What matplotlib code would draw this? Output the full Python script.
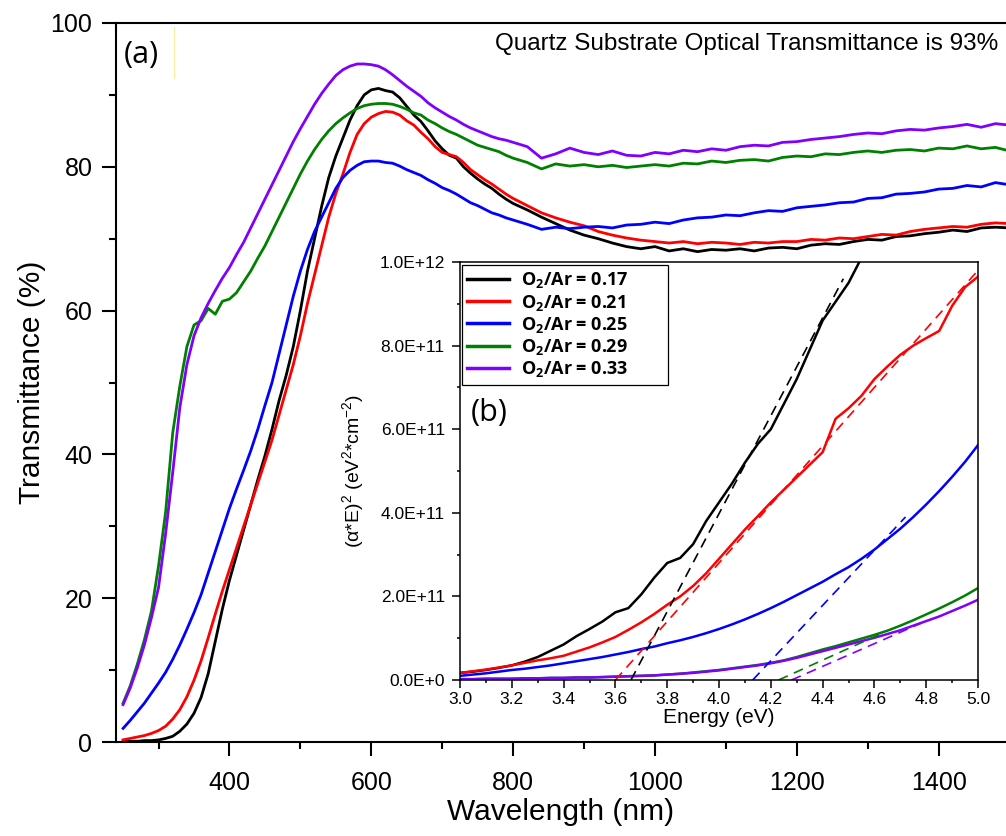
import numpy as np
import matplotlib
matplotlib.use("Agg")
import matplotlib.pyplot as plt
from matplotlib.ticker import MultipleLocator, FuncFormatter

plt.rcParams['font.family'] = ['Liberation Sans', 'DejaVu Sans']
plt.rcParams['mathtext.fontset'] = 'custom'
plt.rcParams['mathtext.rm'] = 'Liberation Sans'
plt.rcParams['mathtext.it'] = 'Liberation Sans:italic'
plt.rcParams['mathtext.bf'] = 'Open Sans:bold'

# etiquetas de las muestras (razon O2/Ar)
etiquetas = [r'O$_\mathbf{2}$/Ar = 0.17', r'O$_\mathbf{2}$/Ar = 0.21', r'O$_\mathbf{2}$/Ar = 0.25',
             r'O$_\mathbf{2}$/Ar = 0.29', r'O$_\mathbf{2}$/Ar = 0.33']
colores = ['#000000', '#FF0000', '#0000FF', '#008000', '#8000FF']

# (a) transmitancia vs longitud de onda
longitud = list(range(250, 801, 10)) + list(range(820, 1501, 20))

t_017 = [0.1, 0.1, 0.1, 0.2, 0.2, 0.3, 0.5, 0.8, 1.5, 2.5, 4.0, 6.2, 9.5, 14.0, 18.5, 22.5, 26.0, 29.5,
         33.0, 36.5, 39.8, 43.5, 47.5, 51.0, 55.0, 60.0, 65.5, 70.0, 74.5, 78.5, 81.5, 84.0, 86.5, 88.5,
         90.0, 90.7, 90.9, 90.6, 90.4, 89.6, 88.4, 87.2, 86.3, 85.0, 83.6, 82.5, 81.6, 81.2, 80.0, 79.1,
         78.3, 77.6, 77.0, 76.2, 75.5, 74.9,
         74.0, 73.0, 72.1, 71.2, 70.5, 70.0, 69.4, 68.9, 68.6, 68.9, 68.3, 68.6, 68.2, 68.5, 68.4, 68.6,
         68.3, 68.7, 68.8, 68.6, 69.1, 69.3, 69.2, 69.6, 69.9, 69.8, 70.3, 70.4, 70.7, 70.9, 71.2, 71.0,
         71.5, 71.6, 71.5]
t_021 = [0.3, 0.5, 0.7, 0.9, 1.2, 1.6, 2.2, 3.2, 4.5, 6.3, 8.6, 11.3, 14.5, 17.8, 21.0, 24.0, 27.0, 30.0,
         33.0, 36.0, 39.0, 42.0, 45.5, 49.0, 52.5, 56.5, 61.0, 65.0, 69.0, 73.0, 76.3, 79.0, 82.0, 84.5,
         86.0, 86.9, 87.4, 87.7, 87.6, 87.2, 86.4, 85.8, 84.8, 83.9, 82.8, 82.0, 81.7, 81.4, 80.6, 79.6,
         78.9, 78.2, 77.6, 76.9, 76.2, 75.6,
         74.6, 73.6, 72.9, 72.3, 71.8, 71.0, 70.5, 70.1, 69.8, 69.6, 69.4, 69.6, 69.3, 69.5, 69.4, 69.2,
         69.5, 69.4, 69.6, 69.6, 69.9, 69.8, 70.1, 70.0, 70.3, 70.6, 70.5, 71.0, 71.3, 71.5, 71.7, 71.6,
         72.0, 72.2, 72.1]
t_025 = [1.9, 3.0, 4.2, 5.4, 6.8, 8.2, 9.7, 11.5, 13.5, 15.7, 18.0, 20.5, 23.5, 26.5, 29.5, 32.5, 35.2,
         37.8, 40.5, 43.5, 46.8, 50.0, 54.0, 58.0, 62.0, 65.5, 68.5, 71.0, 73.0, 75.0, 77.0, 78.5, 79.5,
         80.2, 80.7, 80.8, 80.8, 80.6, 80.5, 80.1, 79.6, 79.2, 78.8, 78.2, 77.7, 77.1, 76.7, 76.2, 75.6,
         75.0, 74.6, 74.1, 73.6, 73.3, 72.9, 72.6,
         72.0, 71.3, 71.6, 71.4, 71.6, 71.7, 71.5, 71.9, 72.0, 72.3, 72.1, 72.6, 72.9, 73.0, 73.3, 73.2,
         73.6, 73.9, 73.8, 74.3, 74.5, 74.7, 75.0, 75.1, 75.6, 75.7, 76.2, 76.3, 76.5, 76.9, 77.0, 77.4,
         77.2, 77.8, 77.5]
t_029 = [5.4, 7.8, 10.8, 14.2, 18.2, 24.5, 32.0, 43.0, 49.5, 55.0, 58.0, 58.6, 60.3, 59.5, 61.3, 61.6,
         62.5, 64.0, 65.5, 67.3, 69.0, 71.0, 73.0, 75.0, 77.0, 79.0, 80.8, 82.4, 83.8, 85.0, 86.0, 86.8,
         87.5, 88.1, 88.5, 88.7, 88.8, 88.8, 88.7, 88.4, 88.0, 87.5, 87.2, 86.5, 86.0, 85.4, 84.9, 84.5,
         84.0, 83.5, 83.0, 82.7, 82.4, 82.1, 81.6, 81.2,
         80.6, 79.7, 80.4, 80.1, 80.3, 80.0, 80.2, 79.9, 80.1, 80.3, 80.1, 80.5, 80.4, 80.8, 80.6, 80.9,
         81.0, 80.8, 81.3, 81.5, 81.4, 81.8, 81.7, 82.0, 82.2, 82.0, 82.3, 82.4, 82.2, 82.6, 82.5, 82.9,
         82.5, 82.7, 82.2]
t_033 = [5.2, 7.5, 10.3, 13.5, 17.3, 21.5, 29.0, 37.5, 46.5, 52.5, 56.5, 59.0, 61.0, 62.8, 64.5, 66.0,
         67.8, 69.5, 71.5, 73.5, 75.5, 77.5, 79.5, 81.5, 83.5, 85.3, 87.0, 88.7, 90.2, 91.5, 92.7, 93.5,
         94.0, 94.3, 94.3, 94.2, 94.0, 93.5, 92.8, 92.0, 91.2, 90.5, 89.8, 88.9, 88.2, 87.6, 87.0, 86.5,
         85.9, 85.4, 85.0, 84.6, 84.2, 83.9, 83.7, 83.4,
         82.8, 81.2, 81.8, 82.6, 82.0, 81.7, 82.2, 81.6, 81.5, 82.0, 81.8, 82.3, 82.1, 82.5, 82.3, 82.8,
         83.0, 82.9, 83.4, 83.5, 83.8, 84.0, 84.2, 84.5, 84.7, 84.6, 85.0, 85.2, 85.1, 85.4, 85.6, 85.9,
         85.5, 86.0, 85.8]
transmitancias = [t_017, t_021, t_025, t_029, t_033]

# (b) grafica de Tauc, (alfa*E)^2 en unidades de 1E+11
energia = [3.00 + 0.05 * i for i in range(41)]
tauc_017 = [0.17, 0.20, 0.24, 0.29, 0.35, 0.44, 0.55, 0.70, 0.85, 1.05, 1.22, 1.40, 1.62, 1.72, 2.05,
            2.45, 2.80, 2.92, 3.25, 3.80, 4.25, 4.70, 5.20, 5.65, 6.00, 6.60, 7.20, 7.90, 8.60, 9.05,
            9.50, 10.1, 10.7]
tauc_021 = [0.17, 0.21, 0.25, 0.30, 0.35, 0.41, 0.47, 0.52, 0.58, 0.68, 0.78, 0.90, 1.03, 1.20, 1.38,
            1.58, 1.80, 2.00, 2.25, 2.55, 2.90, 3.25, 3.60, 3.92, 4.25, 4.55, 4.85, 5.15, 5.45, 6.25,
            6.50, 6.80, 7.20, 7.50, 7.78, 8.00, 8.18, 8.35, 8.95, 9.40, 9.65]
tauc_025 = [0.10, 0.13, 0.16, 0.20, 0.24, 0.27, 0.31, 0.35, 0.40, 0.45, 0.50, 0.55, 0.61, 0.67, 0.74,
            0.80, 0.88, 0.95, 1.03, 1.12, 1.22, 1.33, 1.45, 1.58, 1.72, 1.87, 2.03, 2.19, 2.35, 2.53,
            2.70, 2.90, 3.12, 3.37, 3.62, 3.90, 4.20, 4.52, 4.86, 5.22, 5.62]
tauc_029 = [0.02, 0.02, 0.03, 0.03, 0.03, 0.04, 0.04, 0.05, 0.05, 0.06, 0.06, 0.07, 0.08, 0.09, 0.10,
            0.11, 0.13, 0.15, 0.18, 0.21, 0.24, 0.28, 0.32, 0.36, 0.41, 0.47, 0.55, 0.64, 0.73, 0.81,
            0.90, 0.99, 1.08, 1.18, 1.30, 1.43, 1.57, 1.71, 1.86, 2.02, 2.20]
tauc_033 = [0.02, 0.02, 0.03, 0.03, 0.03, 0.04, 0.04, 0.05, 0.05, 0.06, 0.06, 0.07, 0.08, 0.09, 0.10,
            0.11, 0.13, 0.15, 0.17, 0.20, 0.23, 0.27, 0.31, 0.35, 0.40, 0.46, 0.53, 0.61, 0.69, 0.77,
            0.85, 0.93, 1.01, 1.10, 1.19, 1.30, 1.41, 1.52, 1.65, 1.78, 1.92]
taucs = [tauc_017, tauc_021, tauc_025, tauc_029, tauc_033]

# ajustes lineales (rectas punteadas): corte con el eje E y punto final
ajuste_e0 = [3.66, 3.60, 4.13, 4.23, 4.28]
ajuste_e1 = [4.48, 5.00, 4.72, 4.63, 4.78]
ajuste_v1 = [9.6, 9.8, 3.9, 1.12, 1.36]

fig = plt.figure(figsize=(10.06, 8.36), dpi=100)
ax = fig.add_axes([0.1153, 0.1124, 0.8847, 0.8601])

for t, c in zip(transmitancias, colores):
    ax.plot(longitud, t, color=c, lw=2.0)

ax.set_xlim(240, 1495)
ax.set_ylim(0, 100)
ax.xaxis.set_major_locator(MultipleLocator(200))
ax.xaxis.set_minor_locator(MultipleLocator(100))
ax.yaxis.set_major_locator(MultipleLocator(20))
ax.yaxis.set_minor_locator(MultipleLocator(10))
ax.spines['right'].set_visible(False)
for s in ['left', 'bottom', 'top']:
    ax.spines[s].set_linewidth(1.5)
ax.tick_params(which='major', direction='out', length=10, width=1.5, labelsize=18)
ax.tick_params(axis='x', which='major', pad=11)
ax.tick_params(axis='y', which='major', pad=7)
ax.tick_params(which='minor', direction='out', length=5, width=1.5)
ax.set_xlabel('Wavelength (nm)', fontsize=21.5, labelpad=2)
ax.set_ylabel('Transmittance (%)', fontsize=21.5, labelpad=3)

fig.text(998 / 1006, 1 - 50 / 836, 'Quartz Substrate Optical Transmittance is 93%',
         ha='right', va='baseline', fontsize=17.5)
fig.text(124 / 1006, 1 - 55 / 836, '(a)', family='Open Sans', fontsize=22, ha='left', va='center')
ax.plot([0.065, 0.065], [0.923, 0.994], transform=ax.transAxes, color='#f3eea0', lw=0.8)

# grafica insertada (b)
axb = fig.add_axes([0.4573, 0.1866, 0.5149, 0.5])
axb.set_facecolor('white')
for v, c in zip(taucs, colores):
    axb.plot(energia[:len(v)], np.array(v) * 1e11, color=c, lw=1.8)
for e0, e1, v1, c in zip(ajuste_e0, ajuste_e1, ajuste_v1, colores):
    axb.plot([e0, e1], [0, v1 * 1e11], color=c, lw=1.2, ls=(0, (6, 4)))

axb.set_xlim(3.0, 5.0)
axb.set_ylim(0, 1e12)
axb.xaxis.set_major_locator(MultipleLocator(0.2))
axb.xaxis.set_minor_locator(MultipleLocator(0.1))
axb.yaxis.set_major_locator(MultipleLocator(2e11))
axb.yaxis.set_minor_locator(MultipleLocator(1e11))
axb.xaxis.set_major_formatter(FuncFormatter(lambda x, p: f'{x:.1f}'))


def formato_e(y, p):
    if y < 1:
        return '0.0E+0' if y > -1 else ''
    exp = int(np.floor(np.log10(y) + 1e-9))
    return f'{y / 10**exp:.1f}E+{exp}'


axb.yaxis.set_major_formatter(FuncFormatter(formato_e))
for s in axb.spines.values():
    s.set_linewidth(1.1)
axb.tick_params(which='major', direction='out', length=5.5, width=1.1, labelsize=12.5)
axb.tick_params(which='minor', direction='out', length=2.5, width=1.1)
axb.tick_params(axis='x', which='major', pad=3)
axb.tick_params(axis='y', which='major', pad=5.5)
axb.set_xlabel('Energy (eV)', fontsize=15, labelpad=1)
axb.set_ylabel('(α*E)$^2$ (eV$^2$*cm$^{-2}$)', fontsize=14, labelpad=10)
fig.text(471 / 1006, 1 - 413 / 836, '(b)', family='Open Sans', fontsize=22, ha='left', va='center')

leg = axb.legend(etiquetas, loc='upper left', bbox_to_anchor=(0.0, 0.0, 0.405, 0.997),
                 mode='expand', borderaxespad=0.1,
                 prop={'family': 'Open Sans', 'weight': 'bold', 'size': 13},
                 handlelength=2.3, handletextpad=0.7, labelspacing=0.12, borderpad=0.3,
                 fancybox=False, edgecolor='black', framealpha=1)
leg.get_frame().set_linewidth(0.9)
for l in leg.get_lines():
    l.set_linewidth(2.5)

fig.savefig('out.png', dpi=100)
